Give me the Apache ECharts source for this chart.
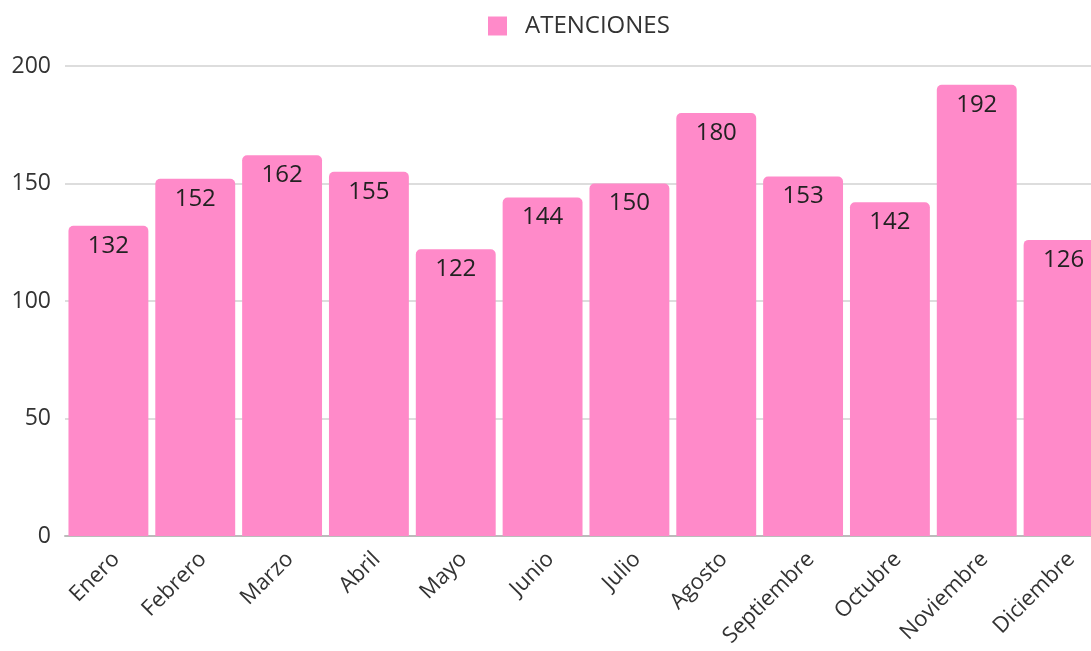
<!DOCTYPE html>
<html lang="es">
  <head>
    <meta charset="UTF-8" />
    <title>Atenciones</title>
    <script src="https://cdn.jsdelivr.net/npm/echarts@6/dist/echarts.min.js"></script>
    <style>
      html, body { margin: 0; padding: 0; background: #fff; overflow: hidden; }
      #main { width: 1091px; height: 651px; }
    </style>
  </head>
  <body>
    <div id="main"></div>
    <script>
      const months = [
        'Enero', 'Febrero', 'Marzo', 'Abril', 'Mayo', 'Junio',
        'Julio', 'Agosto', 'Septiembre', 'Octubre', 'Noviembre', 'Diciembre',
      ];
      const atenciones = [132, 152, 162, 155, 122, 144, 150, 180, 153, 142, 192, 126];
      const yTicks = { min: 0, max: 200, interval: 50 };

      const pink = '#ff8ac9';
      const font = '"Open Sans", "Noto Sans", sans-serif';

      const chart = echarts.init(document.getElementById('main'));
      chart.setOption({
        animation: false,
        textStyle: { fontFamily: font },
        legend: {
          top: 9,
          left: 483,
          itemWidth: 19,
          itemHeight: 19,
          icon: 'rect',
          textStyle: {
            fontSize: 24,
            color: '#333',
            fontFamily: font,
            padding: [0, 0, 0, 13],
          },
          data: ['ATENCIONES'],
        },
        // the plot runs past the right edge of the picture, as in the original
        grid: {
          left: 65,
          width: 1042,
          top: 66,
          bottom: 115,
          containLabel: false,
          outerBoundsMode: 'none',
        },
        xAxis: {
          type: 'category',
          data: months,
          axisLine: { lineStyle: { color: '#bbb', width: 2 } },
          axisTick: { show: false },
          axisLabel: {
            rotate: 45,
            fontSize: 22,
            color: '#333',
            margin: 12,
            verticalAlign: 'top',
            interval: 0,
            fontFamily: font,
          },
        },
        yAxis: {
          type: 'value',
          min: yTicks.min,
          max: yTicks.max,
          interval: yTicks.interval,
          axisLine: { show: false },
          axisTick: { show: false },
          splitLine: { lineStyle: { color: '#ddd', width: 2 } },
          axisLabel: { fontSize: 23, color: '#333', margin: 14, fontFamily: font },
        },
        series: [
          {
            name: 'ATENCIONES',
            type: 'bar',
            data: atenciones,
            barCategoryGap: '8%',
            itemStyle: { color: pink, borderRadius: [5, 5, 0, 0] },
            label: {
              show: true,
              position: 'insideTop',
              distance: 8,
              fontSize: 24,
              color: '#222',
              fontFamily: font,
            },
          },
        ],
      });
    </script>
  </body>
</html>
